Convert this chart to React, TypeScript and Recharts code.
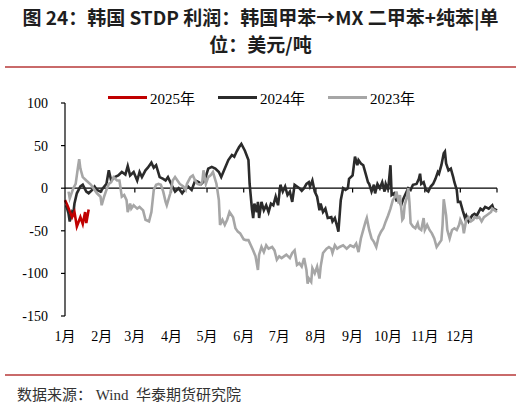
import { LineChart, Line, XAxis, YAxis, ReferenceLine } from "recharts";

// x = day of year, y = USD/t
const days2025 = [0, 2, 4, 6, 8, 10, 13, 15, 17, 18, 20];
const vals2025 = [-14, -20, -27, -34, -28, -45, -34, -42, -28, -41, -25];

const days2024 = [
  1, 3, 4, 6, 7, 8, 10, 13, 15, 18, 20, 23, 25, 27, 30, 32, 35, 37, 39, 42, 45, 48, 51, 53, 55, 58, 61, 63, 65, 68,
  70, 73, 75, 77, 80, 83, 85, 87, 90, 93, 96, 99, 101, 104, 107, 110, 113, 115, 118, 121, 124, 127, 130, 132, 135,
  138, 141, 143, 145, 147, 149, 152, 155, 156, 158, 159, 160, 162, 163, 164, 166, 168, 170, 172, 174, 176, 178, 180,
  182, 184, 186, 188, 190, 192, 194, 196, 198, 200, 202, 204, 206, 207, 209, 211, 213, 215, 216, 218, 220, 222, 225,
  226, 228, 230, 231, 233, 235, 237, 239, 240, 243, 245, 247, 248, 250, 252, 254, 256, 257, 259, 261, 262, 264, 266,
  268, 270, 271, 273, 275, 276, 278, 280, 282, 284, 286, 288, 290, 292, 294, 297, 299, 300, 301, 303, 305, 307, 309,
  311, 313, 315, 316, 318, 320, 321, 322, 324, 326, 328, 329, 331, 332, 334, 336, 338, 339, 341, 344, 346, 348, 351,
  353, 355, 358, 361, 362, 365,
];
const vals2024 = [
  -20, -30, -39, -28, -30, -18, -6, 2, 4, -4, -6, -2, 2, -2, -4, 0, 5, 21, 9, 13, 15, 19, 16, 26, 15, 19, 9, 19, 13, 21,
  24, 30, 24, 27, 13, 11, 9, 13, 4, -4, 0, -6, -2, 2, -2, 9, 7, 5, 9, 23, 25, 23, 19, 13, 23,
  33, 39, 37, 43, 48, 52, 44, 33, 5, -25, -35, -18, -28, -16, -35, -16, -26, -20, -28, -18, -20, -10, -20,
  4, -4, 2, -8, -4, -16, 4, 2, 0, -3, 0, 5, 7, 2, 9, -4, -10, -26, -18, -28, -24, -35, -34,
  -39, -35, -45, -51, -14, 0, -2, 0, 11, 15, 37, 27, 33, 29, 27, 17, 7, 5, -4, 4, -6, 5, 0,
  7, -4, 5, -2, 27, -8, -6, -14, -12, -20, -12, -6, 0, -2, 4, 5, 11, 17, 5, 7, -2, -4, 2,
  5, 11, 19, 17, 27, 41, 43, 29, 21, 23, 13, 7, -2, -16, -16, -26, -35, -32, -39, -32, -30, -32, -24,
  -26, -22, -24, -20, -24, -26,
];

const days2023 = [
  3, 4, 6, 7, 9, 11, 12, 13, 15, 18, 22, 24, 27, 30, 31, 33, 35, 37, 39, 41, 44, 46, 48, 50, 52, 53, 55, 56, 58, 61,
  63, 66, 68, 71, 73, 75, 77, 79, 81, 83, 85, 86, 89, 91, 93, 95, 97, 100, 102, 103, 106, 108, 110, 112, 114, 116,
  117, 119, 121, 123, 125, 128, 130, 131, 133, 135, 137, 139, 142, 144, 146, 148, 151, 153, 155, 157, 159, 161, 163,
  164, 166, 168, 170, 172, 175, 177, 179, 181, 183, 185, 187, 190, 192, 194, 196, 198, 200, 202, 204, 205, 206, 208,
  209, 211, 213, 215, 216, 218, 221, 223, 225, 226, 228, 230, 232, 235, 238, 241, 244, 246, 248, 250, 252, 254, 255,
  257, 259, 261, 263, 265, 267, 269, 271, 273, 275, 277, 279, 280, 282, 283, 285, 286, 287, 289, 290, 291, 292, 294,
  296, 298, 299, 301, 303, 304, 306, 308, 310, 312, 314, 316, 318, 319, 320, 322, 323, 325, 327, 329, 331, 333, 334,
  336, 337, 339, 341, 343, 345, 346, 348, 350, 352, 354, 356, 358, 360, 361, 363, 365,
];
const vals2023 = [
  -4, -12, -4, 0, 5, 25, 34, 23, 13, 9, 4, 0, -6, -10, -20, -10, -2, 5, 7, 13, 9, 9, -10, -8, -14, -28, -18, -24, -20, -24,
  -22, -26, -37, -39, -28, -2, 4, 5, 4, -4, -16, -20, -6, 9, 13, 9, 5, 2, -2, 5, 13, 15, 9, 5, 4, 7,
  21, 5, 13, 15, 19, 5, -14, -43, -37, -43, -37, -28, -34, -47, -51, -53, -60, -61, -61, -67, -73, -80, -96,
  -78, -69, -75, -67, -71, -69, -73, -84, -80, -82, -80, -78, -82, -76, -73, -90, -88, -92, -82, -96, -112, -106, -110,
  -94, -100, -92, -106, -92, -76, -71, -69, -71, -76, -67, -71, -69, -67, -71, -67, -69, -65, -75, -59, -49, -39, -35,
  -49, -59, -63, -69, -57, -51, -47, -39, -32, -24, -14, -10, -4, -18, -8, -37, -35, -20, -10, 0, -16, -41, -45,
  -47, -41, -47, -49, -35, -49, -43, -49, -53, -59, -69, -65, -61, -43, -13, -32, -49, -59, -49, -47, -49, -43, -37,
  -43, -53, -37, -34, -39, -37, -34, -35, -34, -39, -34, -32, -30, -28, -24, -26, -28,
];

const monthStarts = [0, 31, 59, 90, 120, 151, 181, 212, 243, 273, 304, 334];
const monthLabels = ["1月", "2月", "3月", "4月", "5月", "6月", "7月", "8月", "9月", "10月", "11月", "12月"];
const yTicks = [-150, -100, -50, 0, 50, 100];

const toPoints = (ds: number[], vs: number[]) => ds.map((d, i) => ({ d, v: vs[i] }));

const series = [
  { name: "2024年", color: "#2b2b2b", data: toPoints(days2024, vals2024) },
  { name: "2023年", color: "#a6a6a6", data: toPoints(days2023, vals2023) },
  { name: "2025年", color: "#c00000", data: toPoints(days2025, vals2025) },
];
const legendOrder = ["2025年", "2024年", "2023年"];

const serif = '"Liberation Serif", "Times New Roman", "Noto Sans CJK SC", serif';
const ruleColor = "#c96a6a";

export default function App() {
  return (
    <div style={{ position: "absolute", left: 0, top: 0, width: 521, height: 405, background: "#fff", overflow: "hidden" }}>
      <div
        style={{
          position: "absolute", left: 0, top: 3, width: 521, textAlign: "center",
          fontFamily: '"Noto Sans CJK SC", sans-serif', fontWeight: 700, fontSize: 19, lineHeight: "27px", color: "#1e1e1e",
        }}
      >
        图 24：韩国 STDP 利润：韩国甲苯→MX 二甲苯+纯苯|单
        <br />
        位：美元/吨
      </div>
      <div style={{ position: "absolute", left: 5, top: 66, width: 511, height: 2, background: ruleColor }} />

      {/* legend */}
      <div style={{ position: "absolute", left: 108, top: 87, display: "flex", alignItems: "center", fontFamily: serif, fontSize: 15, color: "#000" }}>
        {legendOrder.map((n) => {
          const s = series.find((x) => x.name === n)!;
          return (
            <div key={n} style={{ display: "flex", alignItems: "center", width: 110 }}>
              <div style={{ width: 39, height: 3, background: s.color, marginRight: 3 }} />
              <span>{n}</span>
            </div>
          );
        })}
      </div>

      <div style={{ position: "absolute", left: 0, top: 0 }}>
        <LineChart width={521} height={405} margin={{ top: 103, right: 24, left: 0, bottom: 59 }}>
          <XAxis
            type="number"
            dataKey="d"
            domain={[0, 365]}
            ticks={monthStarts}
            tickFormatter={(v) => monthLabels[monthStarts.indexOf(v)]}
            axisLine={false}
            tickLine={false}
            tickSize={0}
            tickMargin={15}
            height={30}
            interval={0}
            tick={{ fill: "#000", fontSize: 14, fontFamily: serif }}
          />
          <YAxis
            type="number"
            domain={[-150, 100]}
            ticks={yTicks}
            width={65}
            axisLine={{ stroke: "#000", strokeWidth: 1.2 }}
            tickLine={{ stroke: "#000", strokeWidth: 1.2 }}
            tickSize={4}
            tickMargin={13}
            interval={0}
            tick={{ fill: "#000", fontSize: 14, fontFamily: serif }}
          />
          <ReferenceLine y={0} stroke="#000" strokeWidth={1.2} />
          {[...monthStarts.slice(1), 365].map((d) => (
            <ReferenceLine key={d} segment={[{ x: d, y: 0 }, { x: d, y: -5 }]} stroke="#000" strokeWidth={1.2} />
          ))}
          {series.map((s) => (
            <Line
              key={s.name}
              data={s.data}
              dataKey="v"
              name={s.name}
              type="linear"
              stroke={s.color}
              strokeWidth={2.6}
              dot={false}
              activeDot={false}
              isAnimationActive={false}
            />
          ))}
        </LineChart>
      </div>

      <div style={{ position: "absolute", left: 5, top: 374, width: 511, height: 2, background: ruleColor }} />
      <div style={{ position: "absolute", left: 17, top: 383, fontFamily: serif, fontSize: 15, color: "#333", whiteSpace: "pre" }}>
        数据来源： Wind  华泰期货研究院
      </div>
    </div>
  );
}
